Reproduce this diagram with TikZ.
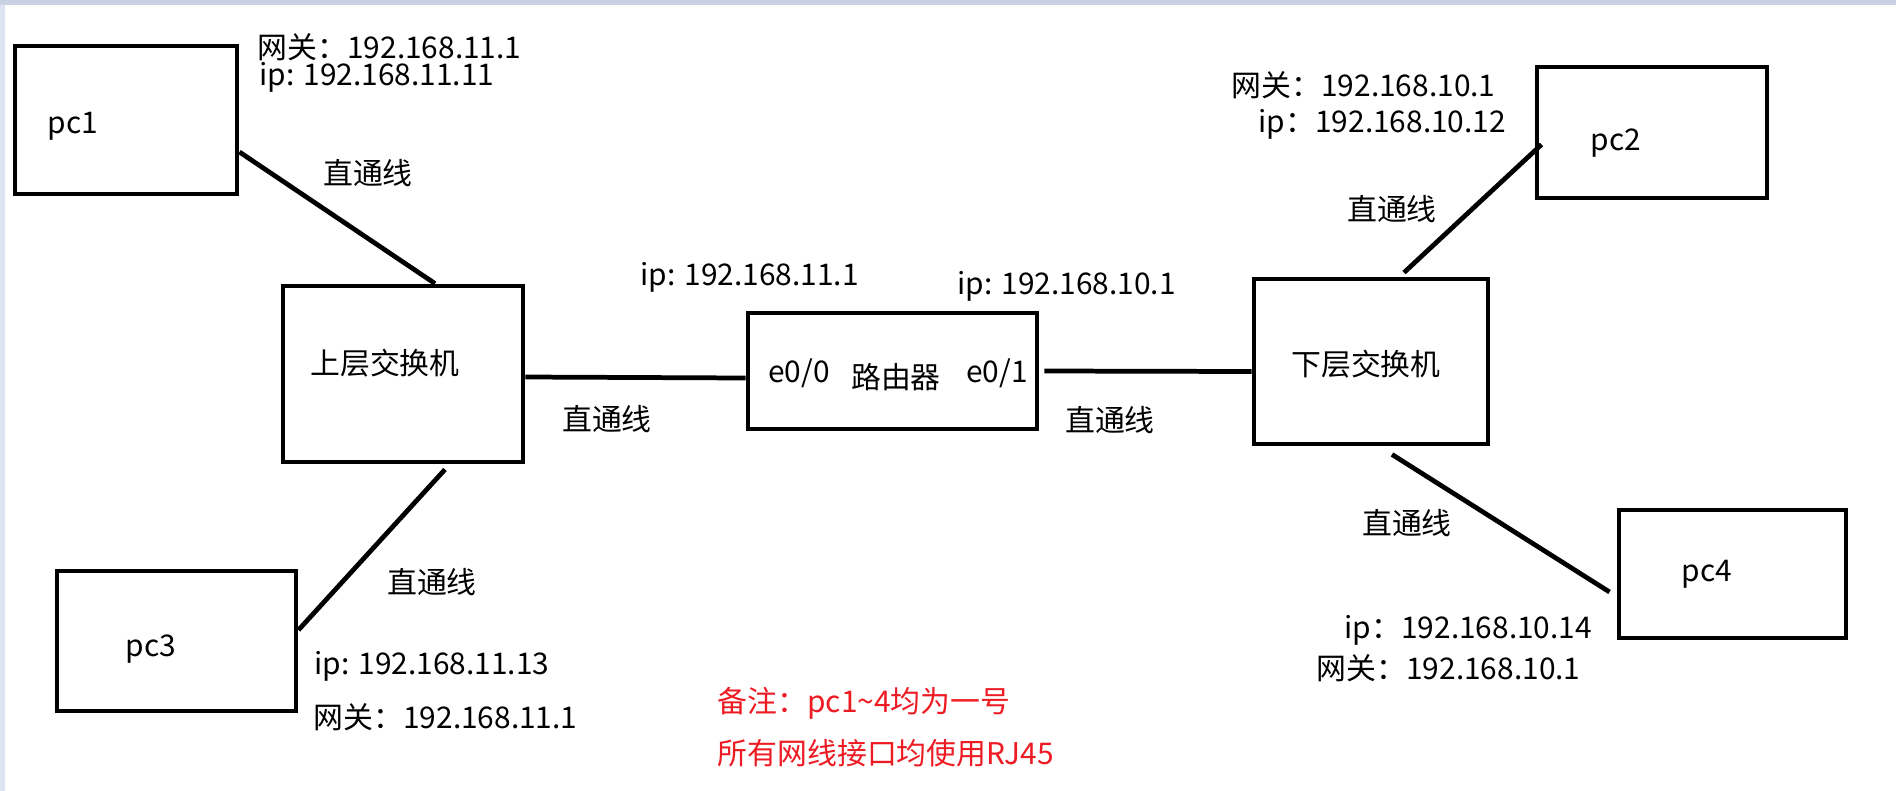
\documentclass[tikz,border=0pt]{standalone}
\usepackage{fontspec}
\setmainfont{Noto Sans CJK SC}
\usepackage{tikz}

\definecolor{bordure}{RGB}{200,210,228}
\definecolor{bordureg}{RGB}{220,228,242}
\definecolor{rouge}{RGB}{237,28,36}

\tikzset{
  boite/.style={draw, line width=1.4pt, inner sep=0pt},
  cable/.style={line width=1.35pt},
  txt/.style={inner sep=0pt},
  adr/.style={inner sep=0pt, anchor=west},
}

\begin{document}
\begin{tikzpicture}[font=\fontsize{8.5}{10}\selectfont]
\useasboundingbox (0,0) rectangle (18.96,-7.91);
\fill[white] (0,0) rectangle (18.96,-7.91);
\fill[bordureg] (0,0) rectangle (0.05,-7.91);
\fill[bordure] (0,0) rectangle (18.96,-0.05);

%Machines
\node[boite, minimum width=2.22cm, minimum height=1.48cm] (pc1) at (1.26,-1.20) {};
\node[boite, minimum width=2.39cm, minimum height=1.40cm] (pc3) at (1.765,-6.41) {};
\node[boite, minimum width=2.40cm, minimum height=1.76cm] (upsw) at (4.03,-3.74) {};
\node[boite, minimum width=2.89cm, minimum height=1.16cm] (router) at (8.925,-3.71) {};
\node[boite, minimum width=2.34cm, minimum height=1.65cm] (downsw) at (13.71,-3.615) {};
\node[boite, minimum width=2.30cm, minimum height=1.31cm] (pc2) at (16.52,-1.325) {};
\node[boite, minimum width=2.27cm, minimum height=1.28cm] (pc4) at (17.325,-5.74) {};

\node[txt] (pc1txt) at (0.73,-1.26) {pc1};
\node[txt] (pc2txt) at (16.16,-1.43) {pc2};
\node[txt] (pc3txt) at (1.51,-6.49) {pc3};
\node[txt] (pc4txt) at (17.07,-5.74) {pc4};
\node[txt] (uptxt) at (3.85,-3.63) {上层交换机};
\node[txt] (downtxt) at (13.66,-3.64) {下层交换机};
\node[txt] (e00) at (7.99,-3.73) {e0/0};
\node[txt] (routxt) at (8.96,-3.77) {路由器};
\node[txt] (e01) at (9.97,-3.73) {e0/1};

%Cables
\draw[cable] ([yshift=-0.32cm]pc1.east) -- ([xshift=0.32cm]upsw.north);
\draw[cable] ([shift={(0.42,-0.05)}]upsw.south) -- ([yshift=0.11cm]pc3.east);
\draw[cable] ([yshift=-0.03cm]upsw.east) -- ([yshift=-0.07cm]router.west);
\draw[cable] ([xshift=0.05cm]router.east) -- ([yshift=-0.1cm]downsw.west);
\draw[cable] ([shift={(0.33,0.04)}]downsw.north) -- ([shift={(0.07,-0.12)}]pc2.west);
\draw[cable] ([shift={(0.21,-0.08)}]downsw.south) -- ([shift={(-0.07,-0.18)}]pc4.west);

\node[txt] (c1) at (3.68,-1.73) {直通线};
\node[txt] (c3) at (4.32,-5.82) {直通线};
\node[txt] (c5) at (6.07,-4.19) {直通线};
\node[txt] (c6) at (11.10,-4.20) {直通线};
\node[txt] (c2) at (13.92,-2.09) {直通线};
\node[txt] (c4) at (14.07,-5.23) {直通线};

%Adresses
\node[adr] (gw1) at (2.57,-0.47) {网关：192.168.11.1};
\node[adr] (ip1) at (2.59,-0.77) {ip: 192.168.11.11};
\node[adr] (ipe0) at (6.40,-2.77) {ip: 192.168.11.1};
\node[adr] (ipe1) at (9.57,-2.86) {ip: 192.168.10.1};
\node[adr] (gw2) at (12.31,-0.85) {网关：192.168.10.1};
\node[adr] (ip2) at (12.58,-1.24) {ip：192.168.10.12};
\node[adr] (ip3) at (3.14,-6.66) {ip: 192.168.11.13};
\node[adr] (gw3) at (3.13,-7.17) {网关：192.168.11.1};
\node[adr] (ip4) at (13.44,-6.30) {ip：192.168.10.14};
\node[adr] (gw4) at (13.16,-6.68) {网关：192.168.10.1};

%Remarque
\node[adr, text=rouge] (note1) at (7.17,-7.03) {备注：pc1\textasciitilde4均为一号};
\node[adr, text=rouge] (note2) at (7.17,-7.53) {所有网线接口均使用RJ45};

\end{tikzpicture}
\end{document}
